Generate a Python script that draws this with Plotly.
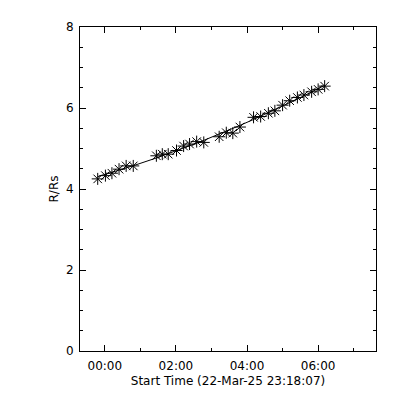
import numpy as np
import pandas as pd
import plotly.graph_objects as go

times = ["2025-03-22 23:48", "2025-03-23 00:01", "2025-03-23 00:12", "2025-03-23 00:24",
         "2025-03-23 00:36", "2025-03-23 00:48", "2025-03-23 01:27", "2025-03-23 01:37",
         "2025-03-23 01:47", "2025-03-23 02:01", "2025-03-23 02:13", "2025-03-23 02:23",
         "2025-03-23 02:35", "2025-03-23 02:47", "2025-03-23 03:13", "2025-03-23 03:25",
         "2025-03-23 03:36", "2025-03-23 03:48", "2025-03-23 04:11", "2025-03-23 04:23",
         "2025-03-23 04:36", "2025-03-23 04:47", "2025-03-23 05:00", "2025-03-23 05:12",
         "2025-03-23 05:25", "2025-03-23 05:36", "2025-03-23 05:49", "2025-03-23 06:00",
         "2025-03-23 06:11"]
heights = [4.25, 4.33, 4.39, 4.49, 4.57, 4.57, 4.82, 4.86, 4.86, 4.95, 5.06, 5.11,
           5.17, 5.15, 5.29, 5.39, 5.38, 5.53, 5.77, 5.79, 5.87, 5.93, 6.07, 6.18,
           6.26, 6.32, 6.40, 6.46, 6.54]
start_time = "2025-03-22 23:18:07"
end_time = "2025-03-23 07:37:40"
x_title = "Start Time (22-Mar-25 23:18:07)"
y_title = "R/Rs"

t = pd.to_datetime(times)
hrs = (t - t[0]).total_seconds() / 3600.0
coef = np.polyfit(hrs, heights, 2)
fit = np.polyval(coef, hrs)

font = dict(family="DejaVu Sans, Liberation Sans, sans-serif", size=12, color="black")

fig = go.Figure()
fig.add_trace(go.Scatter(x=t, y=fit, mode="lines",
                         line=dict(color="black", width=1), hoverinfo="skip"))
fig.add_trace(go.Scatter(x=t, y=heights, mode="markers",
                         marker=dict(symbol="asterisk-open", size=10, color="black",
                                     line=dict(color="black", width=1))))

fig.update_layout(
    width=400, height=400,
    margin=dict(l=72, r=32, t=19, b=57),
    paper_bgcolor="white", plot_bgcolor="white",
    showlegend=False, font=font,
)
fig.update_xaxes(
    type="date", range=[start_time, end_time],
    tick0="2025-03-23 00:00", dtick=7200000, tickformat="%H:%M",
    ticks="inside", ticklen=6, tickwidth=1, tickcolor="black",
    minor=dict(dtick=3600000, tick0="2025-03-23 00:00", ticks="inside", ticklen=3,
               tickcolor="black", showgrid=False),
    showline=True, linecolor="black", linewidth=1, mirror="allticks",
    showgrid=False, zeroline=False, ticklabelstandoff=4,
    title=dict(text=x_title, standoff=4, font=font),
    tickfont=font,
)
fig.update_yaxes(
    range=[0, 8], tick0=0, dtick=2,
    ticks="inside", ticklen=6, tickwidth=1, tickcolor="black",
    minor=dict(dtick=0.5, ticks="inside", ticklen=3, tickcolor="black", showgrid=False),
    showline=True, linecolor="black", linewidth=1, mirror="allticks",
    showgrid=False, zeroline=False, ticklabelstandoff=3,
    title=dict(text=y_title, standoff=4, font=font),
    tickfont=font,
)
fig.write_html("out.html")
